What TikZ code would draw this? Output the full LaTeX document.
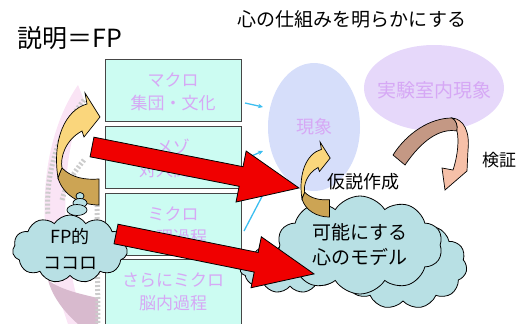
\documentclass[tikz,border=0pt]{standalone}
\usepackage{fontspec}
\setmainfont{Noto Sans CJK JP}
\usetikzlibrary{shapes.symbols,shapes.geometric,arrows.meta}
\definecolor{boxfill}{RGB}{204,252,242}
\definecolor{boxline}{RGB}{70,70,70}
\definecolor{lav}{RGB}{214,168,245}
\definecolor{phenfill}{RGB}{214,222,250}
\definecolor{labfill}{RGB}{230,216,250}
\definecolor{cloudfill}{RGB}{184,224,228}
\definecolor{yel}{RGB}{250,214,124}
\definecolor{tanc}{RGB}{204,164,84}
\definecolor{redc}{RGB}{240,0,0}
\definecolor{cyanc}{RGB}{60,190,240}
\definecolor{browndark}{RGB}{196,152,132}
\definecolor{brownlight}{RGB}{246,192,168}
\definecolor{pinkbg}{RGB}{250,228,245}
\definecolor{mauvebg}{RGB}{216,186,206}
\begin{document}
\begin{tikzpicture}[x=1pt,y=-1pt,
  lvlbox/.style={draw=boxline, line width=0.8pt, fill=boxfill, minimum width=136pt, minimum height=62pt, inner sep=0pt},
  lvltext/.style={text=lav, align=center, font=\fontsize{17}{23}\selectfont},
  cloudnode/.style={cloud, cloud puffs=11, cloud puff arc=115, cloud ignores aspect, draw=black, line width=0.8pt, fill=cloudfill, inner sep=0pt},
  redarr/.style={fill=redc, draw=black, line width=0.8pt},
  smallarr/.style={cyanc, line width=1.3pt, -{Stealth[length=5pt,width=4.5pt]}},
  blacktext/.style={text=black, font=\fontsize{17}{20}\selectfont},
  curvarrow/.pic={
    \filldraw[fill=tanc, draw=black, line width=0.7pt] (4,75) .. controls (14,85) and (27,87) .. (41,86) -- (41,112) .. controls (22,112) and (5,102) .. (0,85) .. controls (1,82) and (2,79) .. (4,75) -- cycle;
    \filldraw[fill=yel, draw=black, line width=0.7pt] (0,85) .. controls (-6,47) and (7,17) .. (29,11) -- (27,0) -- (42,24) -- (26,44) -- (24,38) .. controls (7,47) and (2,65) .. (4,75) .. controls (2,79) and (1,82) .. (0,85) -- cycle;
  }
]
\useasboundingbox (0,0) rectangle (528,324);
\clip (0,0) rectangle (528,324);

% faint background decoration on the left
\fill[pinkbg] (78,85) .. controls (40,140) and (35,230) .. (60,300) -- (68,324) -- (85,324) .. controls (62,260) and (56,170) .. (84,100) -- cycle;
\fill[mauvebg] (48,280) .. controls (60,290) and (85,295) .. (98,298) -- (98,324) -- (78,324) .. controls (62,310) and (52,295) .. (48,280) -- cycle;
\draw[gray!40, line width=5pt, dash pattern=on 2pt off 2pt] (84,100) .. controls (60,130) and (45,170) .. (48,215);
\draw[gray!40, line width=5pt, dash pattern=on 2pt off 2pt] (84,160) .. controls (72,175) and (66,185) .. (62,200);
\draw[gray!40, line width=5pt, dash pattern=on 2pt off 2pt] (97,205) -- (98,324);

% ellipses
\node[ellipse, fill=phenfill, minimum width=92pt, minimum height=128pt, inner sep=0pt] (phen) at (314,127) {};
\node[text=lav, font=\fontsize{18}{20}\selectfont] (phentext) at (314,127) {現象};
\node[ellipse, fill=labfill, minimum width=140pt, minimum height=86pt, inner sep=0pt] (lab) at (434,88) {};
\node[text=lav, font=\fontsize{19}{20}\selectfont] (labtext) at (434,90) {実験室内現象};

% level boxes
\node[lvlbox] (macro) at (173,90.5) {};
\node[lvltext] (macrot) at (173,92) {マクロ\\集団・文化};
\node[lvlbox] (meso) at (173,157) {};
\node[lvltext] (mesot) at (173,158) {メゾ\\対人関係};
\node[lvlbox] (micro) at (173,224) {};
\node[lvltext] (microt) at (173,226) {ミクロ\\心理過程};
\node[lvlbox, minimum height=72pt] (brain) at (173,295) {};
\node[lvltext] (braint) at (173,292) {さらにミクロ\\脳内過程};

% small cyan arrows toward the phenomena
\coordinate (c1s) at (245,103); \coordinate (c1e) at (263,107);
\coordinate (c2s) at (247,158); \coordinate (c2e) at (263,151);
\coordinate (c3s) at (244,231); \coordinate (c3e) at (268,185);
\draw[smallarr] (c1s) -- (c1e);
\draw[smallarr] (c2s) -- (c2e);
\draw[smallarr] (c3s) -- (c3e);

% model clouds
\node[cloudnode, minimum width=100pt, minimum height=50pt] (cloudl) at (290,268) {};
\node[cloudnode, minimum width=128pt, minimum height=88pt] (cloudr) at (403,265) {};
\node[cloudnode, cloud puffs=10, minimum width=165pt, minimum height=98pt, align=center, font=\fontsize{19}{25}\selectfont] (model) at (360,245) {可能にする\\心のモデル};

% curved arrows
\pic at (58,93) {curvarrow};
\pic[scale=0.67] at (302,142) {curvarrow};

% verification arrow
\filldraw[fill=browndark, draw=black, line width=0.7pt] (393,155) .. controls (407,133) and (430,118) .. (452,118) .. controls (456,120) and (458,125) .. (457,131) .. controls (440,128) and (422,140) .. (405,165) -- cycle;
\filldraw[fill=brownlight, draw=black, line width=0.7pt] (452,118) .. controls (464,119) and (470,132) .. (468,150) -- (467,171) -- (445,190) -- (442,168) -- (453,170) .. controls (458,155) and (459,140) .. (457,131) .. controls (458,125) and (456,120) .. (452,118) -- cycle;

% FP cloud with thought bubbles
\node[ellipse, draw=black, line width=0.7pt, fill=cloudfill, minimum width=8pt, minimum height=7pt, inner sep=0pt] (b1) at (80,196) {};
\node[ellipse, draw=black, line width=0.7pt, fill=cloudfill, minimum width=14pt, minimum height=9pt, inner sep=0pt] (b2) at (80,203) {};
\node[ellipse, draw=black, line width=0.7pt, fill=cloudfill, minimum width=20pt, minimum height=11pt, inner sep=0pt] (b3) at (77,210) {};
\node[cloudnode, minimum width=115pt, minimum height=68pt, align=center, font=\fontsize{18}{26}\selectfont] (fp) at (70,249) {FP的\\ココロ};

% big red arrows
\draw[redarr, shift={(92,147)}, rotate=-11.2] (0,-10) -- (152,-10) -- (152,-26) -- (211,0) -- (152,26) -- (152,10) -- (0,10) -- cycle;
\draw[redarr, shift={(116,234)}, rotate=-11.4] (0,-10) -- (143,-10) -- (143,-26) -- (202,0) -- (143,26) -- (143,10) -- (0,10) -- cycle;

% labels
\node[text=black, font=\fontsize{25}{28}\selectfont] (title) at (70,38) {説明＝FP};
\node[text=black, font=\fontsize{19}{20}\selectfont] (goal) at (352,19) {心の仕組みを明らかにする};
\node[blacktext, font=\fontsize{18}{20}\selectfont] (hyp) at (363,182) {仮説作成};
\node[blacktext] (verify) at (499,160) {検証};
\end{tikzpicture}
\end{document}
